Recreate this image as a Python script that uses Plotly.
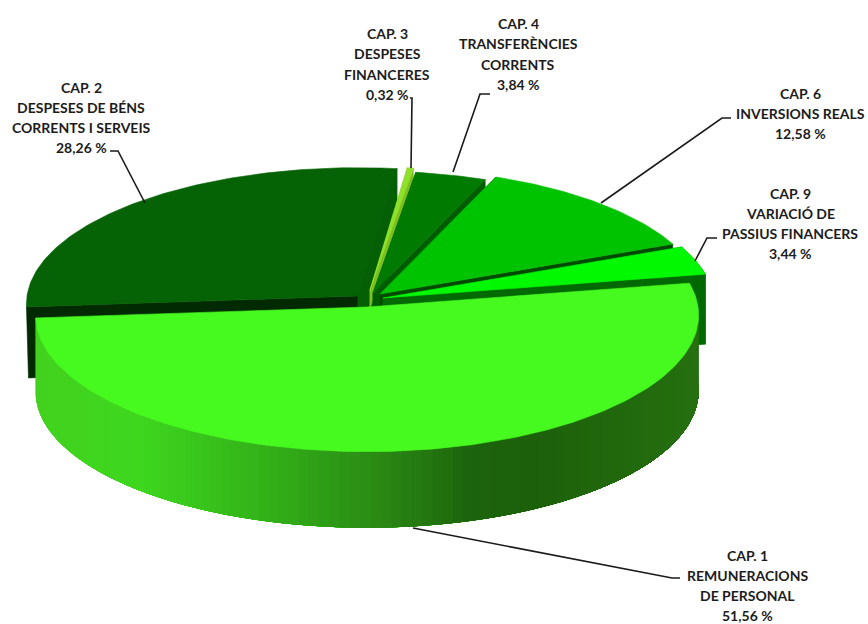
import math
import plotly.graph_objects as go

# ---- chart data ----
chapters = ["CAP. 1", "CAP. 2", "CAP. 3", "CAP. 4", "CAP. 6", "CAP. 9"]
shares = [51.56, 28.26, 0.32, 3.84, 12.58, 3.44]
label_lines = {
    "CAP. 1": ["CAP. 1", "REMUNERACIONS", "DE PERSONAL", "51,56 %"],
    "CAP. 2": ["CAP. 2", "DESPESES DE BÉNS", "CORRENTS I SERVEIS", "28,26 %"],
    "CAP. 3": ["CAP. 3", "DESPESES", "FINANCERES", "0,32 %"],
    "CAP. 4": ["CAP. 4", "TRANSFERÈNCIES", "CORRENTS", "3,84 %"],
    "CAP. 6": ["CAP. 6", "INVERSIONS REALS", "12,58 %"],
    "CAP. 9": ["CAP. 9", "VARIACIÓ DE", "PASSIUS FINANCERS", "3,44 %"],
}

# ---- appearance ----
W, H = 868, 624
RX, RV, PERSP = 331.0, 136.0, 0.06
START = 79.8  # angle (clockwise from the back) where the first slice begins

# apex x, apex y, radius scale, extrusion depth
geom = {
    "CAP. 1": (367, 307, 1.00, 76),
    "CAP. 2": (358, 296, 1.00, 71),
    "CAP. 3": (370, 290, 0.96, 18),
    "CAP. 4": (373, 293, 0.95, 30),
    "CAP. 6": (380, 294, 0.98, 30),
    "CAP. 9": (383, 298, 1.00, 70),
}
top_color = {"CAP. 1": "#46fa20", "CAP. 2": "#056205", "CAP. 3": "#8fe02a",
             "CAP. 4": "#007a00", "CAP. 6": "#00c300", "CAP. 9": "#00f800"}
wall_color = {"CAP. 2": "#056005", "CAP. 3": "#7cc020", "CAP. 4": "#005c00",
              "CAP. 6": "#004a00", "CAP. 9": "#006a00"}
label_pos = {"CAP. 1": (747, 555), "CAP. 2": (81, 87), "CAP. 3": (387, 33),
             "CAP. 4": (518, 23), "CAP. 6": (800, 93), "CAP. 9": (790, 193)}
line_step = {"CAP. 1": 20, "CAP. 2": 20, "CAP. 3": 20.5, "CAP. 4": 20.5, "CAP. 6": 20, "CAP. 9": 20}
leaders = [
    [(110, 151), (118, 151), (145, 203)],
    [(410, 98), (412, 98), (411, 168)],
    [(490, 94), (480, 94), (453, 172)],
    [(731, 118), (722, 118), (601, 203)],
    [(717, 238), (707, 238), (695, 261)],
    [(413, 528), (672, 578), (680, 578)],
]
# gradient of the front rim as (screen fraction left->right, colour)
rim_stops = [(0.00, (66, 210, 30)), (0.15, (62, 215, 30)), (0.35, (50, 175, 24)),
             (0.52, (42, 135, 20)), (0.65, (28, 100, 12)), (0.74, (28, 96, 10)), (1.00, (38, 112, 16))]


def pt(name, theta):
    ax, ay, k, _ = geom[name]
    t = math.radians(theta)
    s, c = math.sin(t), math.cos(t)
    d = 1 + PERSP * c
    return ax + k * RX * s / d, ay - k * RV * c / d


def arc(name, a, b, n=None):
    n = n or max(2, int(abs(b - a)) + 2)
    return [pt(name, a + (b - a) * i / (n - 1)) for i in range(n)]


def poly(points, color, name=None, width=0.6):
    xs = [p[0] for p in points] + [points[0][0]]
    ys = [p[1] for p in points] + [points[0][1]]
    return go.Scatter(x=xs, y=ys, mode="lines", fill="toself", fillcolor=color,
                      line=dict(color=color, width=width), name=name or "",
                      hoverinfo="skip", showlegend=False)


def rim_color(f):
    for (f0, c0), (f1, c1) in zip(rim_stops, rim_stops[1:]):
        if f <= f1:
            u = (f - f0) / (f1 - f0)
            return "rgb(%d,%d,%d)" % tuple(round(c0[i] + (c1[i] - c0[i]) * u) for i in range(3))
    return "rgb(%d,%d,%d)" % rim_stops[-1][1]


# angular spans from the values
spans = {}
a = START
for name, v in zip(chapters, shares):
    spans[name] = (a, a + v * 3.6)
    a += v * 3.6

traces = []


def radial_wall(name, theta):
    ax, ay, _, depth = geom[name]
    ox, oy = pt(name, theta)
    return poly([(ax, ay), (ox, oy), (ox, oy + depth), (ax, ay + depth)], wall_color[name])


# back slices first, front slice last
for name in ["CAP. 2", "CAP. 3", "CAP. 4", "CAP. 6", "CAP. 9"]:
    a0, a1 = spans[name]
    if name == "CAP. 2":
        ax, ay, _, depth = geom[name]
        ox, oy = pt(name, a0)
        traces.append(poly([(ax, ay), (ox, oy), (ox + 2, oy + depth), (ax, ay + depth)], "#012a01"))
    traces.append(radial_wall(name, a0 if name != "CAP. 2" else a1))
    traces.append(radial_wall(name, a1))
    if name == "CAP. 9":
        depth = geom[name][3]
        top = arc(name, a0, a1)
        traces.append(poly(top + [(x, y + depth) for x, y in reversed(top)], wall_color[name]))
    ax, ay, _, _ = geom[name]
    traces.append(poly([(ax, ay)] + arc(name, a0, a1), top_color[name], name))

# front slice rim: strips painted left to right, each running under the next,
# so that no white seam can show between them
a0, a1 = spans["CAP. 1"]
depth = geom["CAP. 1"][3]
x_left, x_right = pt("CAP. 1", 270)[0], pt("CAP. 1", 90)[0]
steps = 110
for i in range(steps):
    t0 = a1 - (a1 - a0) * i / steps
    p0 = pt("CAP. 1", t0)
    strip = arc("CAP. 1", t0, a0, 60)
    f = (p0[0] - x_left) / (x_right - x_left)
    traces.append(poly(strip + [(x, y + depth) for x, y in reversed(strip)],
                       rim_color(max(0, min(1, f))), width=0))
ax, ay, _, _ = geom["CAP. 1"]
traces.append(poly([(ax, ay)] + arc("CAP. 1", a0, a1), top_color["CAP. 1"], "CAP. 1"))

for path in leaders:
    traces.append(go.Scatter(x=[p[0] for p in path], y=[p[1] for p in path], mode="lines",
                             line=dict(color="#1a1a1a", width=1.6), hoverinfo="skip", showlegend=False))

annotations = []
for name in chapters:
    x0, y0 = label_pos[name]
    for i, line in enumerate(label_lines[name]):
        annotations.append(dict(x=x0, y=y0 + i * line_step[name], xref="x", yref="y", text="<b>%s</b>" % line,
                                showarrow=False, xanchor="center", yanchor="middle",
                                font=dict(family="Lato", size=14, color="#1c1c1c")))

fig = go.Figure(traces)
fig.update_layout(width=W, height=H, margin=dict(l=0, r=0, t=0, b=0), paper_bgcolor="white",
                  plot_bgcolor="white", showlegend=False, hovermode=False, annotations=annotations,
                  xaxis=dict(range=[0, W], visible=False, fixedrange=True),
                  yaxis=dict(range=[H, 0], visible=False, fixedrange=True))
fig.write_html("out.html", config={"displayModeBar": False},
               post_script="document.body.style.margin='0';document.body.style.overflow='hidden';")
